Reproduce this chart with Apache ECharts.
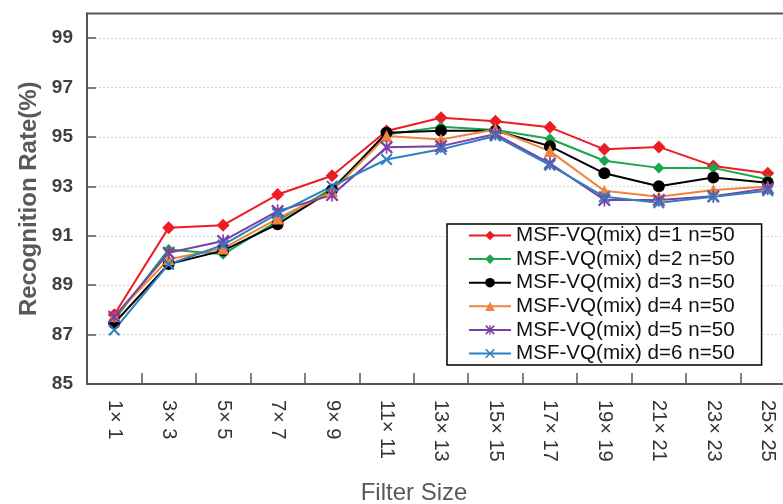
<!DOCTYPE html>
<html>
<head>
<meta charset="utf-8">
<script src="https://cdn.jsdelivr.net/npm/echarts@6/dist/echarts.min.js"></script>
<style>
  html, body { margin: 0; padding: 0; background: #ffffff; }
  #chart { width: 783px; height: 504px; }
</style>
</head>
<body>
<div id="chart"></div>
<script>
// ---- data ----
const categories = ['1× 1', '3× 3', '5× 5', '7× 7', '9× 9', '11× 11', '13× 13', '15× 15', '17× 17', '19× 19', '21× 21', '23× 23', '25× 25'];
const seriesNames = ['MSF-VQ(mix) d=1 n=50', 'MSF-VQ(mix) d=2 n=50', 'MSF-VQ(mix) d=3 n=50', 'MSF-VQ(mix) d=4 n=50', 'MSF-VQ(mix) d=5 n=50', 'MSF-VQ(mix) d=6 n=50'];
const d1 = [87.80, 91.33, 91.43, 92.67, 93.43, 95.24, 95.78, 95.64, 95.39, 94.50, 94.60, 93.83, 93.53];
const d2 = [87.60, 90.45, 90.25, 91.60, 92.92, 95.10, 95.41, 95.28, 94.93, 94.04, 93.75, 93.75, 93.28];
const d3 = [87.46, 89.86, 90.40, 91.47, 92.85, 95.17, 95.25, 95.25, 94.63, 93.53, 93.01, 93.36, 93.15];
const d4 = [87.75, 90.05, 90.49, 91.70, 92.80, 95.04, 94.90, 95.30, 94.43, 92.82, 92.58, 92.85, 93.00];
const d5 = [87.72, 90.31, 90.79, 92.00, 92.65, 94.58, 94.63, 95.12, 93.93, 92.45, 92.45, 92.60, 92.92];
const d6 = [87.19, 89.85, 90.63, 91.90, 93.01, 94.09, 94.50, 95.04, 93.86, 92.58, 92.34, 92.58, 92.82];
const yMin = 85, yMax = 100, yStep = 2;

// ---- styles ----
const FONT = "'Liberation Sans', Arial, sans-serif";
const colors = ['#ed1c24', '#1aa64a', '#000000', '#f0843a', '#7b3fa6', '#2d7fc1'];
const xPath = 'path://M0,1.2 L1.2,0 L10,8.8 L8.8,10 Z M8.8,0 L10,1.2 L1.2,10 L0,8.8 Z';
const starPath = 'path://M0,1.2 L1.2,0 L10,8.8 L8.8,10 Z M8.8,0 L10,1.2 L1.2,10 L0,8.8 Z M4.35,0 L5.65,0 L5.65,10 L4.35,10 Z';
const symbols = ['diamond', 'diamond', 'circle', 'triangle', starPath, xPath];
const sizes = [13, 11, 12, 12, 13, 12];
const allData = [d1, d2, d3, d4, d5, d6];

const chart = echarts.init(document.getElementById('chart'), null, { renderer: 'canvas' });

const series = allData.map((d, i) => ({
  name: seriesNames[i],
  type: 'line',
  data: d,
  symbol: symbols[i],
  symbolSize: sizes[i],
  showAllSymbol: true,
  color: colors[i],
  lineStyle: { color: colors[i], width: 2 },
  itemStyle: { color: colors[i], borderWidth: 0 },
  emphasis: { disabled: true },
  animation: false
}));

chart.setOption({
  animation: false,
  backgroundColor: '#ffffff',
  grid: {
    left: 87, top: 13.5, width: 708, height: 370.5,
    show: true, borderColor: '#555555', borderWidth: 2,
    containLabel: false, outerBoundsMode: 'none'
  },
  legend: {
    orient: 'vertical',
    left: 447, top: 224,
    padding: [0, 27, 0, 21],
    itemWidth: 42, itemHeight: 12, itemGap: 0.6,
    backgroundColor: '#ffffff',
    borderColor: '#000000', borderWidth: 1.5, borderRadius: 0,
    textStyle: { fontFamily: FONT, fontSize: 20.6, color: '#111111', lineHeight: 23 },
    data: seriesNames
  },
  xAxis: {
    type: 'category',
    data: categories,
    boundaryGap: true,
    name: 'Filter Size',
    nameLocation: 'middle',
    nameGap: 97,
    nameTextStyle: { fontFamily: FONT, fontSize: 24, color: '#595959', padding: [0, 54, 0, 0] },
    axisLine: { show: true, lineStyle: { color: '#555555', width: 2 } },
    axisTick: { show: true, inside: true, length: 11, alignWithLabel: false, lineStyle: { color: '#555555', width: 1.5 } },
    axisLabel: { rotate: -90, margin: 16, interval: 0, fontFamily: FONT, fontSize: 20, color: '#333333' },
    splitLine: { show: false }
  },
  yAxis: {
    type: 'value',
    min: yMin, max: yMax, interval: yStep,
    name: 'Recognition Rate(%)',
    nameLocation: 'middle',
    nameGap: 46,
    nameTextStyle: { fontFamily: FONT, fontSize: 24, fontWeight: 'bold', color: '#595959' },
    axisLine: { show: true, lineStyle: { color: '#555555', width: 2 } },
    axisTick: { show: true, inside: true, length: 9, lineStyle: { color: '#555555', width: 1.5 } },
    axisLabel: { showMaxLabel: false, margin: 14, fontFamily: FONT, fontSize: 19, fontWeight: 'bold', color: '#404040' },
    splitLine: { show: true, showMinLine: false, showMaxLine: false, lineStyle: { color: '#d6d6d6', width: 1, type: [2, 2] } }
  },
  series: series
});
</script>
</body>
</html>
